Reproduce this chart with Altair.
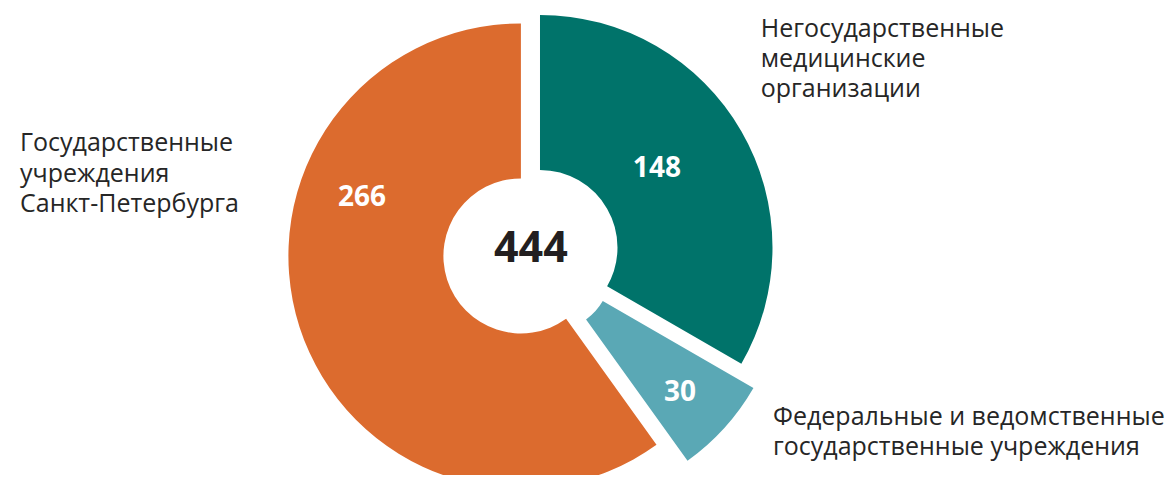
import altair as alt
import pandas as pd

# ---- data ----
categories = [
    "Негосударственные медицинские организации",
    "Федеральные и ведомственные государственные учреждения",
    "Государственные учреждения Санкт-Петербурга",
]
values = [148, 30, 266]
label_lines = [
    "Негосударственные\nмедицинские\nорганизации",
    "Федеральные и ведомственные\nгосударственные учреждения",
    "Государственные\nучреждения\nСанкт-Петербурга",
]

# ---- styles / layout ----
colors = ["#00736A", "#5AA8B5", "#DC6B2E"]
explode = [10.5, 28, 10.5]          # px each slice is pulled out
inner = [77.5, 59, 77.5]            # inner radius per slice
outer = [232.5, 233, 232.5]         # outer radius per slice
lab_angle = [56, 133.5, 290]        # degrees, clockwise from 12 o'clock
lab_radius = [141, 177, 169]
FONT = "Open Sans"
W, H = 1160, 467
CX, CY = 522.9, 244.7

df = pd.DataFrame({"category": categories, "value": values,
                   "idx": list(range(len(values))), "label": label_lines})

def arr(a):
    return "[" + ",".join(str(v) for v in a) + "][datum.idx]"

xscale = alt.Scale(domain=[-CX, W - CX], range=[0, W])
yscale = alt.Scale(domain=[-CY, H - CY], range=[0, H])

base = (
    alt.Chart(df)
    .transform_window(cum="sum(value)", sort=[alt.SortField("idx")], frame=[None, 0])
    .transform_joinaggregate(total="sum(value)")
    .transform_calculate(
        t0="(datum.cum - datum.value) / datum.total * 2 * PI",
        t1="datum.cum / datum.total * 2 * PI",
    )
    .transform_calculate(mid="(datum.t0 + datum.t1) / 2")
    .transform_calculate(
        ex=f"{arr(explode)} * sin(datum.mid)",
        ey=f"-{arr(explode)} * cos(datum.mid)",
        ri=arr(inner),
        ro=arr(outer),
        la=f"{arr(lab_angle)} * PI / 180",
        lr=arr(lab_radius),
    )
    .transform_calculate(
        lx="datum.ex + datum.lr * sin(datum.la)",
        ly="datum.ey - datum.lr * cos(datum.la)",
    )
)

arcs = base.mark_arc().encode(
    theta=alt.Theta("t0:Q", scale=None),
    theta2=alt.Theta2("t1:Q"),
    radius=alt.Radius("ro:Q", scale=None),
    radius2=alt.Radius2("ri:Q"),
    x=alt.X("ex:Q", scale=xscale, axis=None),
    y=alt.Y("ey:Q", scale=yscale, axis=None),
    color=alt.Color("category:N", scale=alt.Scale(domain=categories, range=colors), legend=None),
)

nums = base.mark_text(font=FONT, fontWeight="bold", fontSize=28, color="white",
                      align="center", baseline="middle").encode(
    x=alt.X("lx:Q", scale=xscale, axis=None),
    y=alt.Y("ly:Q", scale=yscale, axis=None),
    text=alt.Text("value:Q"),
)

total = (
    alt.Chart(df)
    .transform_aggregate(total="sum(value)")
    .mark_text(font=FONT, fontWeight="bold", fontSize=43, color="#231F20",
               align="center", baseline="middle", dy=-4)
    .encode(
        x=alt.X(datum=0, scale=xscale, axis=None),
        y=alt.Y(datum=0, scale=yscale, axis=None),
        text=alt.Text("total:Q"),
    )
)

label_pos = [(752.7, 29, 30), (765, 417, 29.5), (12, 143, 30.5)]
labels = []
for i, (lx, ly, lh) in enumerate(label_pos):
    labels.append(
        alt.Chart(df)
        .transform_filter(f"datum.idx == {i}")
        .mark_text(font=FONT, fontSize=25, color="#262626", align="left",
                   baseline="alphabetic", lineBreak="\n", lineHeight=lh)
        .encode(x=alt.value(lx), y=alt.value(ly), text="label:N")
    )

chart = (
    alt.layer(arcs, nums, total, *labels)
    .properties(width=W, height=H, autosize=alt.AutoSizeParams(type="none"), padding=0,
                background="white")
    .configure_view(stroke=None)
)

chart.save("out.html", embed_options={"renderer": "svg", "actions": False})
